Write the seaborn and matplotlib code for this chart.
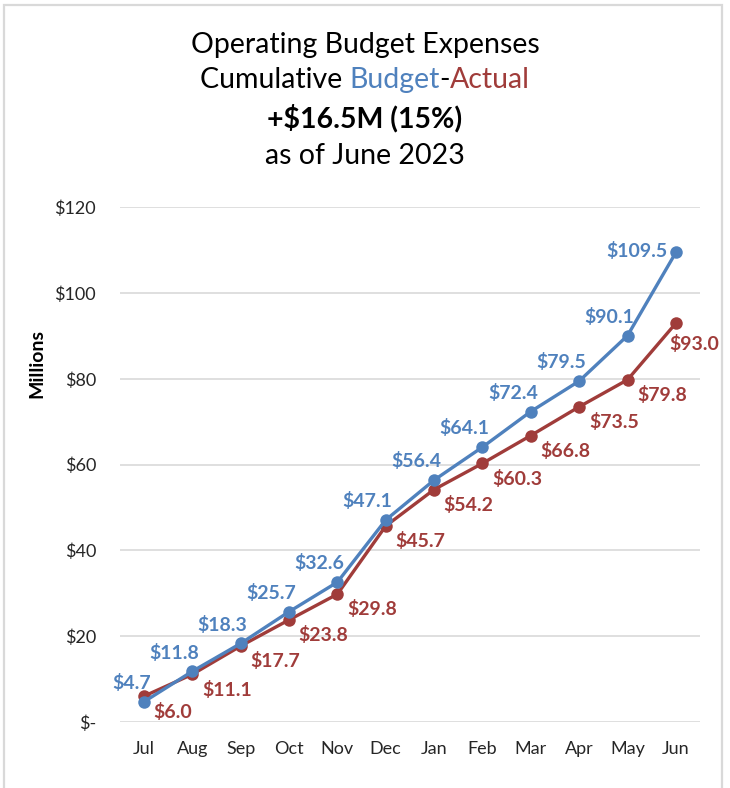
import matplotlib
matplotlib.use("Agg")
import matplotlib.pyplot as plt
import matplotlib.patches as mpatches
import seaborn as sns
import pandas as pd

months = ["Jul", "Aug", "Sep", "Oct", "Nov", "Dec", "Jan", "Feb", "Mar", "Apr", "May", "Jun"]
budget = [4.7, 11.8, 18.3, 25.7, 32.6, 47.1, 56.4, 64.1, 72.4, 79.5, 90.1, 109.5]
actual = [6.0, 11.1, 17.7, 23.8, 29.8, 45.7, 54.2, 60.3, 66.8, 73.5, 79.8, 93.0]
yticks = [0, 20, 40, 60, 80, 100, 120]
ytick_labels = ["$-", "$20", "$40", "$60", "$80", "$100", "$120"]

BLUE = "#4F81BD"
RED = "#A03C3A"
GRID = "#D9D9D9"

sns.set_theme(style="white")
plt.rcParams["font.family"] = ["Lato", "DejaVu Sans"]

df = pd.DataFrame({"pos": range(len(months)), "month": months,
                   "Budget": budget, "Actual": actual})

fig = plt.figure(figsize=(7.3, 7.88), dpi=100)
ax = fig.add_axes([0.164, 0.0838, 0.795, 0.653])

# actual drawn first so budget sits on top
sns.lineplot(data=df, x="pos", y="Actual", ax=ax, color=RED, lw=2.4,
             marker="o", markersize=9, markeredgewidth=0, zorder=3)
sns.lineplot(data=df, x="pos", y="Budget", ax=ax, color=BLUE, lw=2.4,
             marker="o", markersize=9, markeredgewidth=0, zorder=4)

ax.set_xlim(-0.5, len(months) - 0.5)
ax.set_ylim(0, 120)
ax.set_yticks(yticks)
ax.set_yticklabels(ytick_labels, fontsize=13, color="#262626")
ax.set_xticks(df["pos"])
ax.set_xticklabels(months, fontsize=13, color="#262626")
ax.tick_params(axis="y", length=0, pad=17)
ax.tick_params(axis="x", length=0, pad=14)
ax.set_xlabel("")
ax.set_ylabel("Millions", fontsize=14, fontweight="bold", color="#000000")
ax.yaxis.set_label_coords((46 - 120) / 580, (722 - 363) / 515)
ax.grid(axis="y", color=GRID, lw=1.2)
sns.despine(ax=ax, left=True, bottom=True)

# data labels
lab_fs = 14
last = len(months) - 1
for i, v in enumerate(budget):
    if i == last:
        ax.annotate(f"${v:.1f}", (i, v), xytext=(-6, 1), textcoords="offset points",
                    ha="right", va="center", color=BLUE, fontsize=lab_fs, fontweight="bold")
    else:
        ax.annotate(f"${v:.1f}", (i, v), xytext=(5, 7), textcoords="offset points",
                    ha="right", va="bottom", color=BLUE, fontsize=lab_fs, fontweight="bold")
for i, v in enumerate(actual):
    off = (-5, -15) if i == last else (7, -11)
    ax.annotate(f"${v:.1f}", (i, v), xytext=off, textcoords="offset points",
                ha="left", va="center", color=RED, fontsize=lab_fs, fontweight="bold",
                annotation_clip=False)

# title, second line in two colours
title_fs = 20.5
fig.text(0.5, 1 - 45 / 788, "Operating Budget Expenses", ha="center", va="center",
         fontsize=title_fs, color="#000000")
fig.canvas.draw()
renderer = fig.canvas.get_renderer()
parts = [("Cumulative ", "#000000"), ("Budget", BLUE), ("-", "#000000"), ("Actual", RED)]
widths = []
texts = []
for s, c in parts:
    t = fig.text(0, 1 - 80 / 788, s, ha="left", va="center", fontsize=title_fs, color=c)
    widths.append(t.get_window_extent(renderer).width)
    texts.append(t)
total = sum(widths)
x0 = (fig.bbox.width - total) / 2
for t, w in zip(texts, widths):
    t.set_x(x0 / fig.bbox.width)
    x0 += w
fig.text(0.5, 1 - 118 / 788, "+$16.5M (15%)", ha="center", va="center",
         fontsize=title_fs, fontweight="bold", color="#000000")
fig.text(0.5, 1 - 156 / 788, "as of June 2023", ha="center", va="center",
         fontsize=title_fs, color="#000000")

# chart area border
fig.patches.append(mpatches.Rectangle((4 / 730, -0.01), 718 / 730, 1 - 5 / 788 + 0.01,
                                      transform=fig.transFigure, fill=False,
                                      edgecolor=GRID, lw=1.6))

fig.savefig("out.png", dpi=100)
